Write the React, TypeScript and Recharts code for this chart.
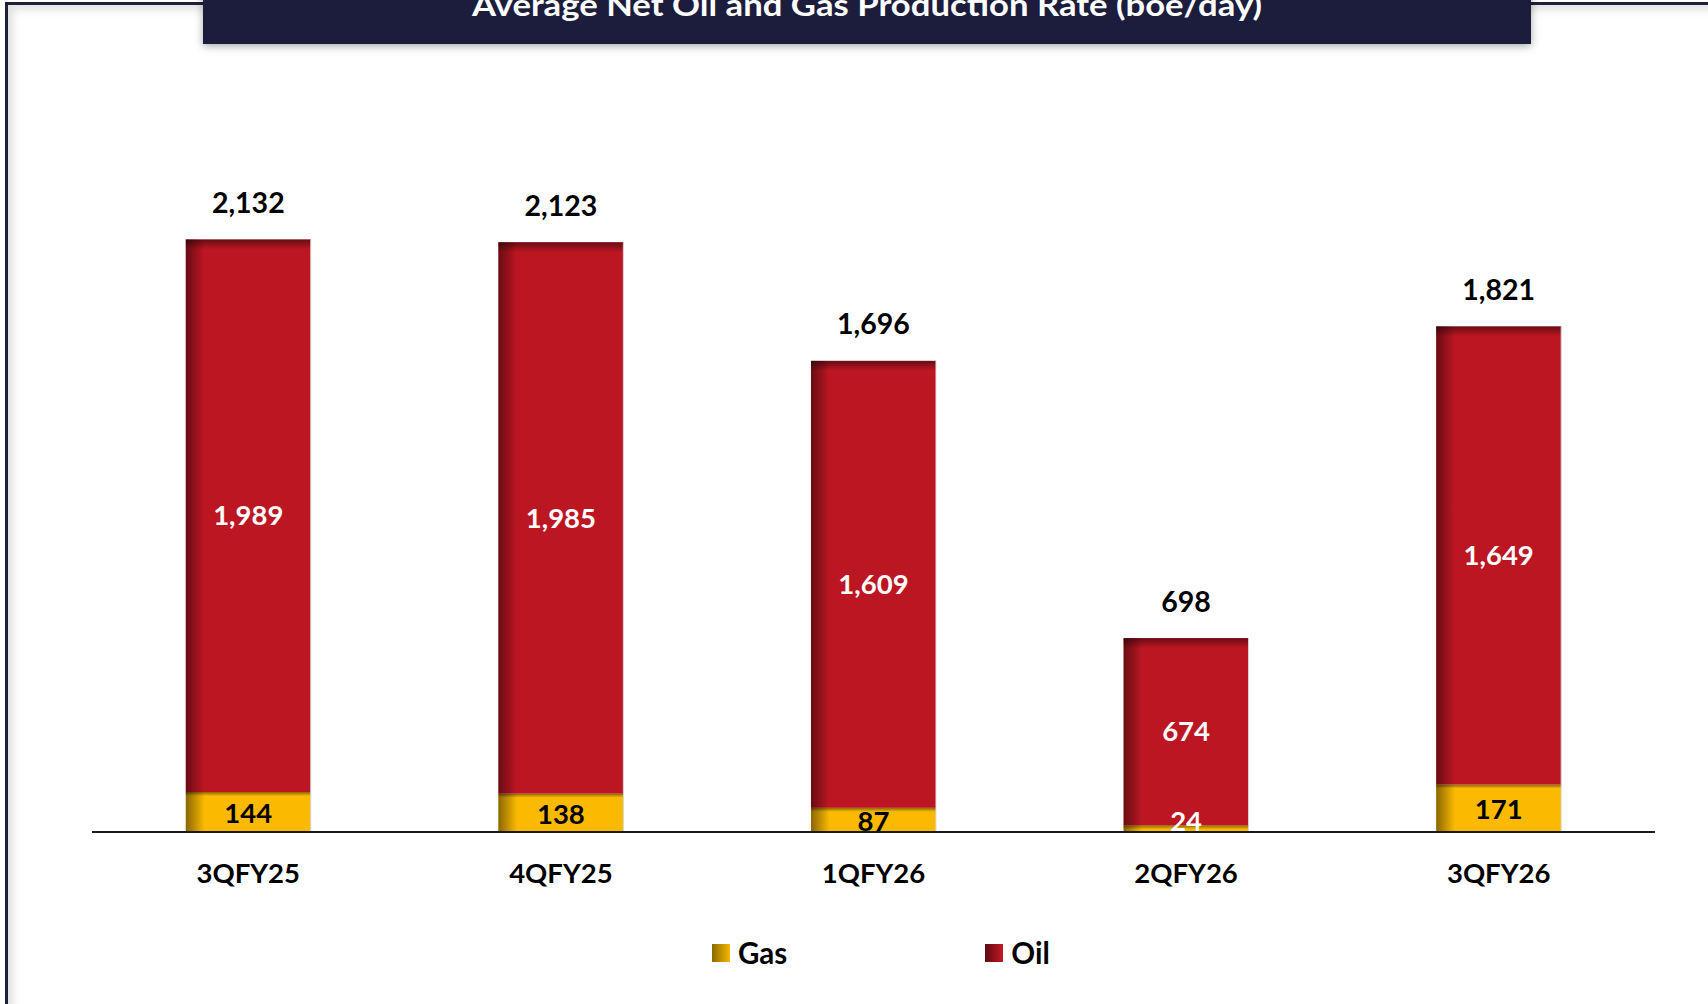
import { BarChart, Bar, XAxis, YAxis, LabelList, Legend } from 'recharts'

const quarters = ['3QFY25', '4QFY25', '1QFY26', '2QFY26', '3QFY26']
const gasValues = [144, 138, 87, 24, 171]
const oilValues = [1989, 1985, 1609, 674, 1649]
const totalLabels = [2132, 2123, 1696, 698, 1821]

const data = quarters.map((q, i) => ({
  quarter: q,
  gas: gasValues[i],
  oil: oilValues[i],
  total: totalLabels[i],
}))

const NAVY = '#1C1F3E'
const OIL = '#BD1623'
const GAS = '#FBBA00'
const FONT = 'Lato, "Open Sans", sans-serif'

const fmt = (v: number) => v.toLocaleString('en-US')

function ShadedBar(props: any) {
  const { x, y, width, height, color, topShade } = props
  if (!height || height <= 0) return null
  const th = Math.min(topShade, height)
  return (
    <g>
      <rect x={x} y={y} width={width} height={height} fill={color} />
      <rect x={x} y={y} width={width * 0.15} height={height} fill="url(#leftShade)" />
      <rect x={x} y={y} width={width} height={th} fill="url(#topShade)" />
      <line x1={x + width} x2={x + width} y1={y} y2={y + height} stroke="#d8d8d8" strokeWidth={1} />
    </g>
  )
}

function OilLabel(props: any) {
  const { x, y, width, height, value } = props
  return (
    <text x={x + width / 2} y={y + height / 2 + 9.7} textAnchor="middle" fill="#fff"
      fontFamily={FONT} fontWeight={700} fontSize={27.5}>
      {fmt(value)}
    </text>
  )
}

function GasLabel(props: any) {
  const { x, y, width, height, value } = props
  const cy = Math.min(y + height / 2 + 1, y + height - 11)
  return (
    <text x={x + width / 2} y={cy + 9.7} textAnchor="middle" fill={height < 15 ? '#fff' : '#000'}
      fontFamily={FONT} fontWeight={700} fontSize={27.5}>
      {fmt(value)}
    </text>
  )
}

function TotalLabel(props: any) {
  const { x, y, width, index } = props
  return (
    <text x={x + width / 2} y={y - 26.5} textAnchor="middle" fill="#000"
      fontFamily={FONT} fontWeight={700} fontSize={28.5}>
      {fmt(totalLabels[index])}
    </text>
  )
}

function QuarterTick(props: any) {
  const { x, y, payload } = props
  return (
    <text x={x} y={y + 51} textAnchor="middle" fill="#000"
      fontFamily={FONT} fontWeight={700} fontSize={27.5}>
      {payload.value}
    </text>
  )
}

function LegendBox() {
  const items = [
    { name: 'Gas', from: '#8C6A00', to: '#F5B800', gap: 198 },
    { name: 'Oil', from: '#5E0A10', to: '#C41A26', gap: 0 },
  ]
  return (
    <div style={{ display: 'flex', alignItems: 'center', fontFamily: FONT, fontWeight: 700, fontSize: 29.5 }}>
      {items.map((it) => (
        <div key={it.name} style={{ display: 'flex', alignItems: 'center', marginRight: it.gap }}>
          <div style={{ width: 18, height: 18, marginRight: 8,
            background: `linear-gradient(90deg, ${it.from}, ${it.to})` }} />
          <span>{it.name}</span>
        </div>
      ))}
    </div>
  )
}

export default function App() {
  return (
    <div style={{ position: 'relative', width: 1708, height: 1004, overflow: 'hidden', background: '#fff' }}>
      <style>{'body{margin:0}'}</style>
      <div style={{ position: 'absolute', left: 5, top: 2, width: 1780, height: 1080,
        border: `3px solid ${NAVY}`, boxShadow: 'inset 5px 5px 8px rgba(0,0,0,0.12)' }} />
      <div style={{ position: 'absolute', left: 0, top: 0 }}>
        <BarChart width={1708} height={1004} data={data} barCategoryGap="30%"
          margin={{ top: 137.5, right: 53, bottom: 0, left: 92 }}>
          <defs>
            <linearGradient id="leftShade" x1="0" y1="0" x2="1" y2="0">
              <stop offset="0" stopColor="#000" stopOpacity={0.45} />
              <stop offset="1" stopColor="#000" stopOpacity={0} />
            </linearGradient>
            <linearGradient id="topShade" x1="0" y1="0" x2="0" y2="1">
              <stop offset="0" stopColor="#000" stopOpacity={0.45} />
              <stop offset="1" stopColor="#000" stopOpacity={0} />
            </linearGradient>
          </defs>
          <XAxis dataKey="quarter" height={172} tickLine={false} tickSize={0} tickMargin={0}
            axisLine={{ stroke: '#1a1a1a', strokeWidth: 2 }} tick={<QuarterTick />} interval={0} />
          <YAxis hide domain={[0, 2500]} />
          <Legend verticalAlign="middle" align="center" layout="horizontal"
            wrapperStyle={{ top: 935, left: 712, width: 500, height: 40 }}
            content={() => <LegendBox />} />
          <Bar dataKey="gas" name="Gas" stackId="a" fill={GAS} isAnimationActive={false}
            shape={(p: any) => <ShadedBar {...p} color={GAS} topShade={4} />}>
            <LabelList dataKey="gas" content={<GasLabel />} />
          </Bar>
          <Bar dataKey="oil" name="Oil" stackId="a" fill={OIL} isAnimationActive={false}
            shape={(p: any) => <ShadedBar {...p} color={OIL} topShade={10} />}>
            <LabelList dataKey="oil" content={<OilLabel />} />
            <LabelList dataKey="total" content={<TotalLabel />} />
          </Bar>
        </BarChart>
      </div>
      <svg width={1708} height={70} style={{ position: 'absolute', left: 0, top: 0 }}>
        <defs>
          <filter id="titleShadow" x="-5%" y="-50%" width="110%" height="200%">
            <feDropShadow dx="0" dy="2" stdDeviation="4" floodColor="#000" floodOpacity={0.35} />
          </filter>
        </defs>
        <rect x={203} y={-12} width={1328} height={56} fill={NAVY} filter="url(#titleShadow)" />
        <text x={867} y={16} textAnchor="middle" fill="#fff" fontFamily={FONT} fontWeight={700} fontSize={31}
          textLength={790} lengthAdjust="spacingAndGlyphs">
          Average Net Oil and Gas Production Rate (boe/day)
        </text>
      </svg>
    </div>
  )
}
